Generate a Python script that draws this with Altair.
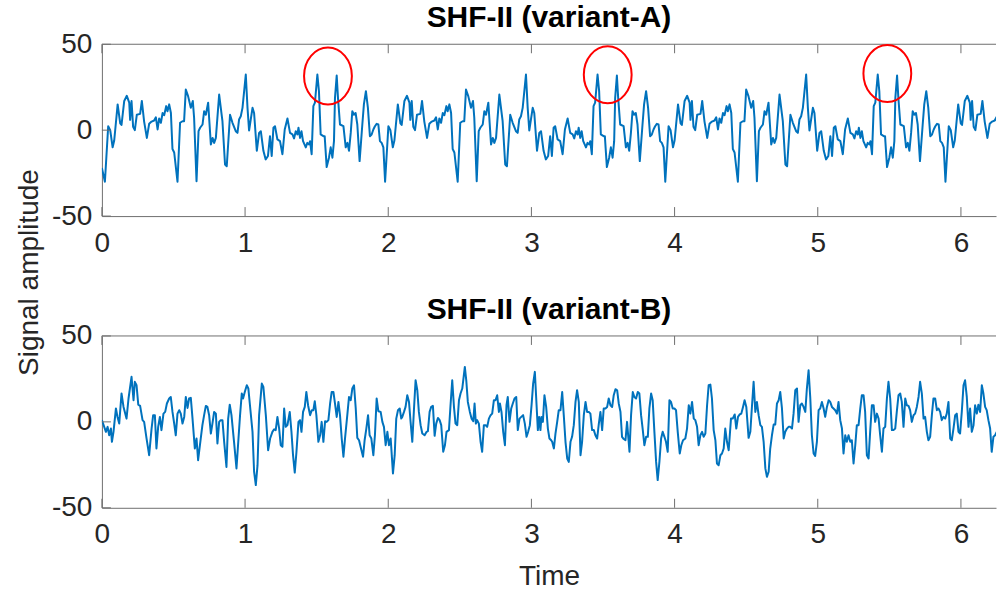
import altair as alt
import pandas as pd

# ---------------- data ----------------
# Panel A: time / amplitude of the traced turning points
a_time = [
    0.000, 0.021, 0.044, 0.058, 0.075, 0.086, 0.110, 0.128, 0.137, 0.156, 0.174, 0.191, 0.197, 0.207,
    0.218, 0.230, 0.244, 0.267, 0.279, 0.295, 0.314, 0.330, 0.347, 0.365, 0.377, 0.389, 0.400, 0.412,
    0.424, 0.435, 0.449, 0.458, 0.470, 0.482, 0.493, 0.505, 0.528, 0.546, 0.563, 0.574, 0.586, 0.602,
    0.621, 0.635, 0.644, 0.661, 0.675, 0.686, 0.703, 0.714, 0.726, 0.742, 0.761, 0.773, 0.784, 0.796,
    0.819, 0.842, 0.860, 0.872, 0.895, 0.912, 0.935, 0.947, 0.958, 0.970, 0.982, 1.005, 1.017, 1.028,
    1.052, 1.063, 1.082, 1.098, 1.110, 1.128, 1.144, 1.160, 1.174, 1.186, 1.198, 1.209, 1.226, 1.244,
    1.261, 1.277, 1.296, 1.314, 1.331, 1.342, 1.354, 1.366, 1.373, 1.384, 1.394, 1.405, 1.424, 1.435,
    1.447, 1.454, 1.465, 1.477, 1.488, 1.505, 1.516, 1.528, 1.547, 1.556, 1.570, 1.586, 1.598, 1.610,
    1.621, 1.628, 1.640, 1.649, 1.663, 1.687, 1.703, 1.715, 1.726, 1.738, 1.749, 1.761, 1.772, 1.784,
    1.800, 1.819, 1.830, 1.844, 1.858, 1.872, 1.884, 1.896, 1.907, 1.919, 1.931, 1.942, 1.954,
    1.966, 1.978, 2.001, 2.015, 2.032, 2.043, 2.067, 2.085, 2.094, 2.113, 2.131, 2.148, 2.154, 2.164,
    2.175, 2.187, 2.201, 2.224, 2.236, 2.252, 2.271, 2.287, 2.304, 2.322, 2.334, 2.346, 2.357, 2.369,
    2.381, 2.392, 2.406, 2.415, 2.427, 2.439, 2.450, 2.462, 2.485, 2.503, 2.520, 2.531, 2.543, 2.559,
    2.578, 2.592, 2.601, 2.618, 2.632, 2.643, 2.660, 2.671, 2.683, 2.699, 2.718, 2.730, 2.741, 2.753,
    2.776, 2.799, 2.817, 2.829, 2.852, 2.869, 2.892, 2.904, 2.915, 2.927, 2.939, 2.962, 2.974, 2.985,
    3.009, 3.020, 3.039, 3.055, 3.067, 3.085, 3.101, 3.117, 3.131, 3.143, 3.155, 3.166, 3.183, 3.201,
    3.218, 3.234, 3.253, 3.271, 3.288, 3.299, 3.311, 3.323, 3.330, 3.341, 3.351, 3.362, 3.381, 3.392,
    3.404, 3.411, 3.422, 3.434, 3.445, 3.462, 3.473, 3.485, 3.504, 3.513, 3.527, 3.543, 3.555, 3.567,
    3.578, 3.585, 3.597, 3.606, 3.620, 3.644, 3.660, 3.672, 3.683, 3.695, 3.706, 3.718, 3.729, 3.741,
    3.757, 3.776, 3.787, 3.801, 3.815, 3.829, 3.841, 3.853, 3.864, 3.876, 3.888, 3.899, 3.911,
    3.923, 3.935, 3.958, 3.972, 3.989, 4.000, 4.024, 4.042, 4.051, 4.070, 4.088, 4.105, 4.111, 4.121,
    4.132, 4.144, 4.158, 4.181, 4.193, 4.209, 4.228, 4.244, 4.261, 4.279, 4.291, 4.303, 4.314, 4.326,
    4.338, 4.349, 4.363, 4.372, 4.384, 4.396, 4.407, 4.419, 4.442, 4.460, 4.477, 4.488, 4.500, 4.516,
    4.535, 4.549, 4.558, 4.575, 4.589, 4.600, 4.617, 4.628, 4.640, 4.656, 4.675, 4.687, 4.698, 4.710,
    4.733, 4.756, 4.774, 4.786, 4.809, 4.826, 4.849, 4.861, 4.872, 4.884, 4.896, 4.919, 4.931, 4.942,
    4.966, 4.977, 4.996, 5.012, 5.024, 5.042, 5.058, 5.074, 5.088, 5.100, 5.112, 5.123, 5.140, 5.158,
    5.175, 5.191, 5.210, 5.228, 5.245, 5.256, 5.268, 5.280, 5.287, 5.298, 5.308, 5.319, 5.338, 5.349,
    5.361, 5.368, 5.379, 5.391, 5.402, 5.419, 5.430, 5.442, 5.461, 5.470, 5.484, 5.500, 5.512, 5.524,
    5.535, 5.542, 5.554, 5.563, 5.577, 5.601, 5.617, 5.629, 5.640, 5.652, 5.663, 5.675, 5.686, 5.698,
    5.714, 5.733, 5.744, 5.758, 5.772, 5.786, 5.798, 5.810, 5.821, 5.833, 5.845, 5.856, 5.868,
    5.880, 5.892, 5.915, 5.929, 5.946, 5.957, 5.981, 5.999, 6.008, 6.027, 6.045, 6.062, 6.068, 6.078,
    6.089, 6.101, 6.115, 6.138, 6.150, 6.166, 6.185, 6.201, 6.218, 6.236, 6.248, 6.260, 6.271,
]
a_amp = [
    -22, -30, 2.3, 0, -10, -6, 15, 4, 3, 17, 20, 16, 6, 17,
    2, 0, 9, 9.5, 17, 5, -4.5, 3.7, 5, 5.6, 7.5, 0.4, 6.8, 4.3,
    10, 8.7, 14, 11, 15, 10, -11, -13, -30, 4.3, 5.2, 5.2, 23.6, 19.8,
    13, 17, 7.2, -29.7, -0.6, 1.4, 3.3, 11, 9, 16, -8.3, -4.5, -7.4, -4.5,
    20.7, 5.2, -20, -21, 9, 4.3, -0.6, -1.6, 6.2, 8.1, 13, 32.4, 13, -0.2,
    13, 10, -12, -1.6, -0.6, -12, -17, -15, -3.5, -15, 1.4, 2.3, -5.4, -6.4,
    -14, 0.4, 6.8, -1.6, -2.5, -4.8, -0.6, -2.5, 1.4, -4.5, -0.6, -6.4, -10, -7.4,
    -8.3, -6.4, -14, 14, 16, 32.4, 22.7, -2.5, -3.5, -3.5, -21.5, -16, -10, -16,
    -6.4, 18.8, 31.8, 18.8, 3.3, 2.3, -10, -7.4, -12, -1.6, 11, 9, 10, 3.3,
    -18, 3.3, 15, 22.7, 13, -3.5, -2.5, 0.4, 2.3, 3.7, 3.3, -6.4, -7.4,
    -10, -30, 2.3, 0, -10, -6, 15, 4, 3, 17, 20, 16, 6, 17,
    2, 0, 9, 9.5, 17, 5, -4.5, 3.7, 5, 5.6, 7.5, 0.4, 6.8, 4.3,
    10, 8.7, 14, 11, 15, 10, -11, -13, -30, 4.3, 5.2, 5.2, 23.6, 19.8,
    13, 17, 7.2, -29.7, -0.6, 1.4, 3.3, 11, 9, 16, -8.3, -4.5, -7.4, -4.5,
    20.7, 5.2, -20, -21, 9, 4.3, -0.6, -1.6, 6.2, 8.1, 13, 32.4, 13, -0.2,
    13, 10, -12, -1.6, -0.6, -12, -17, -15, -3.5, -15, 1.4, 2.3, -5.4, -6.4,
    -14, 0.4, 6.8, -1.6, -2.5, -4.8, -0.6, -2.5, 1.4, -4.5, -0.6, -6.4, -10, -7.4,
    -8.3, -6.4, -14, 14, 16, 32.4, 22.7, -2.5, -3.5, -3.5, -21.5, -16, -10, -16,
    -6.4, 18.8, 31.8, 18.8, 3.3, 2.3, -10, -7.4, -12, -1.6, 11, 9, 10, 3.3,
    -18, 3.3, 15, 22.7, 13, -3.5, -2.5, 0.4, 2.3, 3.7, 3.3, -6.4, -7.4,
    -10, -30, 2.3, 0, -10, -6, 15, 4, 3, 17, 20, 16, 6, 17,
    2, 0, 9, 9.5, 17, 5, -4.5, 3.7, 5, 5.6, 7.5, 0.4, 6.8, 4.3,
    10, 8.7, 14, 11, 15, 10, -11, -13, -30, 4.3, 5.2, 5.2, 23.6, 19.8,
    13, 17, 7.2, -29.7, -0.6, 1.4, 3.3, 11, 9, 16, -8.3, -4.5, -7.4, -4.5,
    20.7, 5.2, -20, -21, 9, 4.3, -0.6, -1.6, 6.2, 8.1, 13, 32.4, 13, -0.2,
    13, 10, -12, -1.6, -0.6, -12, -17, -15, -3.5, -15, 1.4, 2.3, -5.4, -6.4,
    -14, 0.4, 6.8, -1.6, -2.5, -4.8, -0.6, -2.5, 1.4, -4.5, -0.6, -6.4, -10, -7.4,
    -8.3, -6.4, -14, 14, 16, 32.4, 22.7, -2.5, -3.5, -3.5, -21.5, -16, -10, -16,
    -6.4, 18.8, 31.8, 18.8, 3.3, 2.3, -10, -7.4, -12, -1.6, 11, 9, 10, 3.3,
    -18, 3.3, 15, 22.7, 13, -3.5, -2.5, 0.4, 2.3, 3.7, 3.3, -6.4, -7.4,
    -10, -30, 2.3, 0, -10, -6, 15, 4, 3, 17, 20, 16, 6, 17,
    2, 0, 9, 9.5, 17, 5, -4.5, 3.7, 5, 5.6, 7.5, 0.4, 6.8,
]

# Panel B: time / amplitude of the traced turning points
b_time = [
    0.000, 0.028, 0.040, 0.051, 0.063, 0.070, 0.081, 0.098, 0.109, 0.121, 0.137, 0.151, 0.172, 0.186,
    0.207, 0.221, 0.230, 0.242, 0.254, 0.267, 0.284, 0.295, 0.312, 0.330, 0.347, 0.358, 0.370, 0.381,
    0.393, 0.405, 0.416, 0.430, 0.442, 0.454, 0.470, 0.481, 0.493, 0.505, 0.516, 0.528, 0.540, 0.551,
    0.563, 0.575, 0.586, 0.598, 0.609, 0.621, 0.633, 0.649, 0.661, 0.672, 0.686, 0.702, 0.714, 0.726,
    0.737, 0.749, 0.761, 0.772, 0.784, 0.796, 0.807, 0.819, 0.830, 0.842, 0.854, 0.870, 0.882, 0.893,
    0.905, 0.923, 0.940, 0.954, 0.965, 0.977, 0.986, 0.998, 1.012, 1.023, 1.033,
    1.052, 1.063, 1.075, 1.087, 1.098, 1.117, 1.128, 1.145, 1.161, 1.175, 1.191, 1.203, 1.214, 1.226,
    1.238, 1.249, 1.261, 1.273, 1.284, 1.296, 1.312, 1.324, 1.335, 1.347, 1.359, 1.373, 1.384, 1.394,
    1.405, 1.417, 1.428, 1.440, 1.454, 1.466, 1.477, 1.487, 1.498, 1.512, 1.524, 1.535, 1.547, 1.559,
    1.570, 1.582, 1.594, 1.605, 1.617, 1.628, 1.640, 1.652, 1.663, 1.675, 1.687, 1.698, 1.714, 1.726,
    1.738, 1.749, 1.761, 1.773, 1.784, 1.796, 1.807, 1.824, 1.835, 1.847, 1.859, 1.870, 1.882, 1.896,
    1.907, 1.919, 1.931, 1.947, 1.959, 1.970, 1.982, 1.994, 2.005, 2.017, 2.033, 2.045, 2.056, 2.068,
    2.080, 2.091,
    2.098, 2.110, 2.121, 2.133, 2.145, 2.156, 2.168, 2.180, 2.191, 2.203, 2.214, 2.226, 2.238, 2.254,
    2.268, 2.277, 2.289, 2.300, 2.312, 2.324, 2.335, 2.347, 2.359, 2.370, 2.384, 2.396, 2.407, 2.424,
    2.435, 2.447, 2.459, 2.470, 2.482, 2.494, 2.505, 2.517, 2.528, 2.535, 2.545, 2.556, 2.570, 2.582,
    2.594, 2.603, 2.612, 2.621, 2.633, 2.645, 2.656, 2.668, 2.680, 2.691, 2.703, 2.715, 2.726, 2.738,
    2.749, 2.761, 2.773, 2.780, 2.791, 2.803, 2.815, 2.826, 2.835, 2.847, 2.859, 2.870, 2.882, 2.894,
    2.905, 2.917, 2.929, 2.942, 2.954, 2.966, 2.977, 2.989, 3.001, 3.012, 3.024, 3.036, 3.045, 3.054,
    3.063, 3.070, 3.080, 3.091, 3.103, 3.115, 3.126, 3.138,
    3.145, 3.157, 3.168, 3.180, 3.191, 3.203, 3.215, 3.226, 3.238, 3.250, 3.261, 3.273, 3.284, 3.296,
    3.308, 3.319, 3.331, 3.343, 3.354, 3.366, 3.378, 3.389, 3.401, 3.412, 3.424, 3.436, 3.447, 3.459,
    3.471, 3.482, 3.494, 3.505, 3.517, 3.529, 3.540, 3.552, 3.564, 3.575, 3.587, 3.599, 3.610, 3.622,
    3.633, 3.645, 3.657, 3.668, 3.685, 3.696, 3.708, 3.719, 3.731, 3.743, 3.754, 3.766, 3.778, 3.789,
    3.801, 3.813, 3.824, 3.836, 3.847, 3.859, 3.871, 3.882, 3.894, 3.906, 3.917, 3.929, 3.940, 3.952,
    3.964, 3.975, 3.987, 3.999, 4.010, 4.022, 4.036, 4.047, 4.059, 4.075, 4.087, 4.099, 4.110, 4.122,
    4.134, 4.145, 4.157, 4.168, 4.180,
    4.192, 4.203, 4.215, 4.227, 4.238, 4.250, 4.261, 4.273, 4.285, 4.296, 4.308, 4.320, 4.331, 4.343,
    4.354, 4.366, 4.378, 4.394, 4.406, 4.420, 4.431, 4.443, 4.454, 4.466, 4.478, 4.489, 4.501, 4.517,
    4.529, 4.541, 4.552, 4.564, 4.575, 4.587, 4.599, 4.610, 4.622, 4.634, 4.645, 4.657, 4.668, 4.680,
    4.692, 4.703, 4.715, 4.727, 4.738, 4.750, 4.762, 4.773, 4.785, 4.796, 4.808, 4.820, 4.831, 4.843,
    4.855, 4.866, 4.878, 4.889, 4.901, 4.913, 4.924, 4.936, 4.948, 4.959, 4.971, 4.982, 4.994, 5.006,
    5.017, 5.029, 5.041, 5.052, 5.064, 5.076, 5.087, 5.099, 5.110, 5.122, 5.134, 5.145, 5.157, 5.169,
    5.180, 5.192, 5.203, 5.215, 5.227,
    5.238, 5.250, 5.262, 5.273, 5.285, 5.297, 5.308, 5.320, 5.331, 5.343, 5.355, 5.366, 5.378, 5.390,
    5.401, 5.413, 5.425, 5.436, 5.448, 5.459, 5.471, 5.483, 5.494, 5.506, 5.518, 5.529, 5.541, 5.552,
    5.564, 5.576, 5.587, 5.599, 5.611, 5.622, 5.634, 5.645, 5.657, 5.669, 5.680, 5.692, 5.704, 5.715,
    5.727, 5.739, 5.750, 5.762, 5.773, 5.785, 5.797, 5.808, 5.820, 5.832, 5.843, 5.855, 5.866, 5.878,
    5.890, 5.901, 5.913, 5.925, 5.936, 5.948, 5.960, 5.971, 5.983, 5.994, 6.006, 6.018, 6.029, 6.041,
    6.053, 6.064, 6.076, 6.088, 6.099, 6.111, 6.122, 6.134, 6.146, 6.157, 6.169, 6.180, 6.192, 6.204,
    6.215, 6.227, 6.239, 6.250,
]
b_amp = [
    1, -5.8, -2.9, -7.8, -3.9, -11.6, -5.8, 7.8, 2.9, -1, 16.5, 8.7, 1.9, 13.6,
    26.2, 12.6, 23.3, 21.3, 10, 9.3, 1, 0, -9.7, -19.4, -3.9, 3.9, 3.9, -15.5,
    -2.9, 2.9, -4.8, 4.8, 5.8, 10.7, 13.6, 14.5, 5.8, -1, -7.8, 4.8, 6.8, 4.8,
    -1, 2.9, 14.5, 8.1, 13.6, 14, 1.9, -15.5, -9.7, -22.3, -12.6, -1.9, 3.9, 9.3,
    8.7, 3.9, -6.8, -1, 5.8, 4.8, -12.6, 0, 1, 1, -11.6, -26.2, 1.9, 10,
    3.9, -11.6, -27.1, -9.7, 3.9, 16.5, 13.6, 17.4, 21.3, 19.4, 10.7,
    -5.8, -29, -36.8, -25.2, 3.9, 22.3, 20.3, 3.9, -16.5, -9.7, -5.8, -4.3, -4.8, 2.9,
    -3.9, -13.6, -14.5, 7.8, -2.9, -1.9, 5.8, -5.8, -19.4, -29.5, -17.4, 0, 1, -5.8,
    5.8, 8.7, 17.4, 9.7, 3.9, 6.8, 6.8, 12, 3.9, -11.6, -7.8, 0, -11.6, 0.4,
    0, 1, 10.7, 17.4, 17.4, 10.7, 2.9, 11.6, 3.9, -9.7, -20.3, -9.7, 3.9, 14.5,
    12.6, 19.4, 21.3, 7.8, -9.3, -10.7, -14.5, -20.3, -10.7, -3.9, 3.9, -7.8, -9.7, -19.4,
    -7.8, 13.6, 6.2, 5.8, 0, -2.9, -13.6, -5.8, -13.6, -9.7, -30, -19.4, 1.9, 6.8,
    7.8, 1.9,
    2.9, 5.8, 8.7, 15.5, 11.6, 0, -11.6, 7.8, 24.2, 18.4, 5.8, -1.9, -6.8, -7.8,
    -5.8, -5.4, 5.8, 8.7, 9.3, -8.1, -1, 2.3, 1, -1.9, -17.4, -13.6, -5.8, -4.8,
    9.7, 24.2, 8.7, -1, -1.9, 12.6, 16.5, 19.4, 27.1, 32, 24.2, 11.6, 5.8, 1.9,
    0.4, 10.7, -1, 1, -1, -11.6, -17.4, -1.9, -1.9, -2.9, 1.9, 3.9, 4.8, 12.6,
    12.6, 15.5, 5.8, 10.7, 5.8, -5.8, -13.6, 9.7, 14.5, 0, 7.8, 10.7, 13.6, 14.5,
    -4.8, 1.9, 2.9, 3.9, -1, -8.7, -5.8, -1.9, 9.7, 22.3, 29.1, 9.7, -4.8, 2.9,
    -4.8, 2.9, 0, 15.5, 8.7, -3.9, -9.7, -10.7,
    -11.6, -15.5, -6.8, 0, 6.8, 6.8, 17.4, 3.9, -11.6, -21.3, -23.3, -11.6, -8.7, -1.9,
    11.6, 18.4, 11.6, -19.4, -11.6, 3.9, 11.6, 5.8, 5.8, 4.8, -4.8, -4.8, -7.8, -9.7,
    -1, 5.8, -4.8, 7.8, 7.8, 8.7, 13.6, 9.7, 8.7, 15.5, 19, 18.4, 10.7, 5.8,
    -8.7, -10, -10.7, 0, -17.4, 3.9, 17.4, 14.5, 13.6, 17.4, 16.5, 3.9, -4.8, -13.6,
    -8.7, -8.7, 7.8, 16.5, 12.6, -5.8, -23.3, -33.9, -23.3, -9.7, -5.8, -8.7, -11.6, -17.4,
    12.6, 11.6, 7.8, 7.8, 6.8, -5.8, -18.4, -13.6, -10.7, -9.7, -3.9, 9.7, 4.8, 11.6,
    1.9, 1, -2.9, -13.6, -7.8,
    -5.8, -8.7, -6.8, 9.7, 21.3, 21.7, 13.6, -4.8, -10.7, -24.2, -25.2, -19.4, -18.4, -15.5,
    -3.9, -11.6, -16.5, 1.9, 1.9, 4.3, -3.9, 2.9, 4.3, 4.8, 8.7, 12.6, 8.7, -9.3,
    -5.8, 9.7, 23.3, 5.8, 11.6, 3.9, -1.9, -2.9, -11.6, -27.1, -32, -29, -15.5, -7.8,
    -1.6, -1.6, 10.7, 12.6, 17.4, 7.8, -9.7, -5.8, -3.9, -2.9, -2.9, -3.9, 4.8, 18.4,
    19.4, 0, 9.7, 10.7, 8.7, 5.8, 19.4, 30, 13.6, -7.8, -18.4, -19.8, -11.6, 6.8,
    7.8, 11.6, 7.8, 2.9, 8.7, 12.6, 11.6, 8.7, 7.8, 6.8, 4.8, 11.6, 1, -3.9,
    -18.4, -7.8, -11.6, -7.8, -11.6,
    -10.7, -24.2, -13.6, -1.9, -1.9, 7.8, 15.5, 15.5, 5.8, -19.4, -21.3, -5.8, 9.7, 9.7,
    0, 4.8, 1.9, -7.8, -17.4, -3.9, -2.9, 13.6, 23.3, 13.6, -4.8, -4.8, -3.9, 5.8,
    15.5, 16.5, 11.6, -2.9, 13.6, 9.7, 9.3, 6.8, 0, 3.9, 4.8, 8.7, 14.5, 23.3,
    16.5, 1.9, 2.9, -5.8, -10.7, -8.7, 3.9, 13.6, 13.6, 6.8, 7.8, 5.8, 1, 2.9,
    1.9, 4.8, 11.6, -9.7, -10.7, -3.9, 3.9, 4.8, -5.8, -6.8, 5.8, 21.3, 24.2, 14.5,
    -2.9, 7.8, -5.8, -1.9, 9.7, 4.8, 10, 5.8, 21.3, 16.5, 8.7, 6.8, 1, -3.9,
    -17.4, -8.7, -7.8, -5.8,
]

x_tick_values = [0, 1, 2, 3, 4, 5, 6]
y_tick_values = [-50, 0, 50]
# red ellipses around the double peaks of panel A
mark_time = [1.579, 3.533, 5.486]
mark_amp = [31.5, 32.3, 33.0]
panel_titles = ["SHF-II (variant-A)", "SHF-II (variant-B)"]

# ---------------- styling ----------------
W, H = 895, 172
X_DOMAIN = [0, 6.245]
Y_DOMAIN = [-50, 50]
FONT = "Liberation Sans"
LINE = "#0072BD"
TEXT = "#262626"
FRAME = "#6e6e6e"
TICK_LEN = 9
TICK_FS = 28
LABEL_FS = 28
TITLE_FS = 30
ELLIPSE = "M -0.84 0 A 0.84 1 0 1 0 0.84 0 A 0.84 1 0 1 0 -0.84 0 Z"

xs = alt.Scale(domain=X_DOMAIN, nice=False, zero=False)
ys = alt.Scale(domain=Y_DOMAIN, nice=False, zero=False)


def x_axis(with_title):
    kw = dict(
        values=x_tick_values, ticks=False, tickSize=0, grid=False, labelFlush=False,
        labelOverlap=False, labelFont=FONT, labelFontSize=TICK_FS, labelColor=TEXT,
        labelPadding=27, labelBaseline="middle", domainColor=FRAME, domainWidth=1, format="d",
    )
    if with_title:
        kw.update(title="Time", titleFont=FONT, titleFontSize=LABEL_FS, titleFontWeight="normal",
                  titleColor=TEXT, titleY=69, titleBaseline="middle")
    else:
        kw.update(title=None)
    return alt.Axis(**kw)


def y_axis(with_title):
    kw = dict(
        values=y_tick_values, ticks=False, tickSize=0, grid=False, labelFlush=False,
        labelOverlap=False, labelFont=FONT, labelFontSize=TICK_FS, labelColor=TEXT,
        labelPadding=10, domainColor=FRAME, domainWidth=1,
        labelExpr="datum.value < 0 ? '-' + (-datum.value) : '' + datum.value",
    )
    if with_title:
        kw.update(title="Signal amplitude", titleFont=FONT, titleFontSize=LABEL_FS,
                  titleFontWeight="normal", titleColor=TEXT, titleAngle=270,
                  titleX=-72, titleY=228, titleAlign="center", titleBaseline="middle")
    else:
        kw.update(title=None)
    return alt.Axis(**kw)


def panel(t, v, title, with_x_title, with_y_title, with_marks):
    data = pd.DataFrame({"t": t, "v": v})
    xt = pd.DataFrame({"t": x_tick_values})
    yt = pd.DataFrame({"v": y_tick_values})
    one = pd.DataFrame({"t": [0]})
    xa = x_axis(with_x_title)
    ya = y_axis(with_y_title)

    line = alt.Chart(data).mark_line(
        color=LINE, strokeWidth=2, clip=True, strokeJoin="round"
    ).encode(
        x=alt.X("t:Q", scale=xs, axis=xa),
        y=alt.Y("v:Q", scale=ys, axis=ya),
    )
    bottom_ticks = alt.Chart(xt).mark_rule(color=FRAME, strokeWidth=1).encode(
        x=alt.X("t:Q", scale=xs, axis=xa), y=alt.value(H), y2=alt.value(H - TICK_LEN)
    )
    top_ticks = alt.Chart(xt).mark_rule(color=FRAME, strokeWidth=1).encode(
        x=alt.X("t:Q", scale=xs, axis=xa), y=alt.value(0), y2=alt.value(TICK_LEN)
    )
    left_ticks = alt.Chart(yt).mark_rule(color=FRAME, strokeWidth=1).encode(
        y=alt.Y("v:Q", scale=ys, axis=ya), x=alt.value(0), x2=alt.value(TICK_LEN)
    )
    top_border = alt.Chart(one).mark_rule(color=FRAME, strokeWidth=1).encode(
        x=alt.value(0), x2=alt.value(W), y=alt.value(0)
    )
    layers = [line, bottom_ticks, top_ticks, left_ticks, top_border]
    if with_marks:
        md = pd.DataFrame({"t": mark_time, "v": mark_amp})
        ell = alt.Chart(md).mark_point(
            shape=ELLIPSE, size=57 * 57, filled=False, stroke="#FF0000",
            strokeWidth=2, opacity=1
        ).encode(
            x=alt.X("t:Q", scale=xs, axis=xa), y=alt.Y("v:Q", scale=ys, axis=ya)
        )
        layers.append(ell)
    return alt.layer(*layers).properties(
        width=W, height=H,
        title=alt.TitleParams(text=title, font=FONT, fontSize=TITLE_FS, fontWeight="bold",
                              color="#000000", offset=-27, baseline="alphabetic",
                              anchor="middle"),
    )


top = panel(a_time, a_amp, panel_titles[0], False, True, True)
bottom = panel(b_time, b_amp, panel_titles[1], True, False, False)

chart = alt.vconcat(top, bottom, spacing=120, bounds="flush").properties(
    padding={"left": 16, "top": 3, "right": 0, "bottom": 0}
).configure_view(stroke=None)

chart.save("out.html", embed_options={"renderer": "svg", "actions": False})
